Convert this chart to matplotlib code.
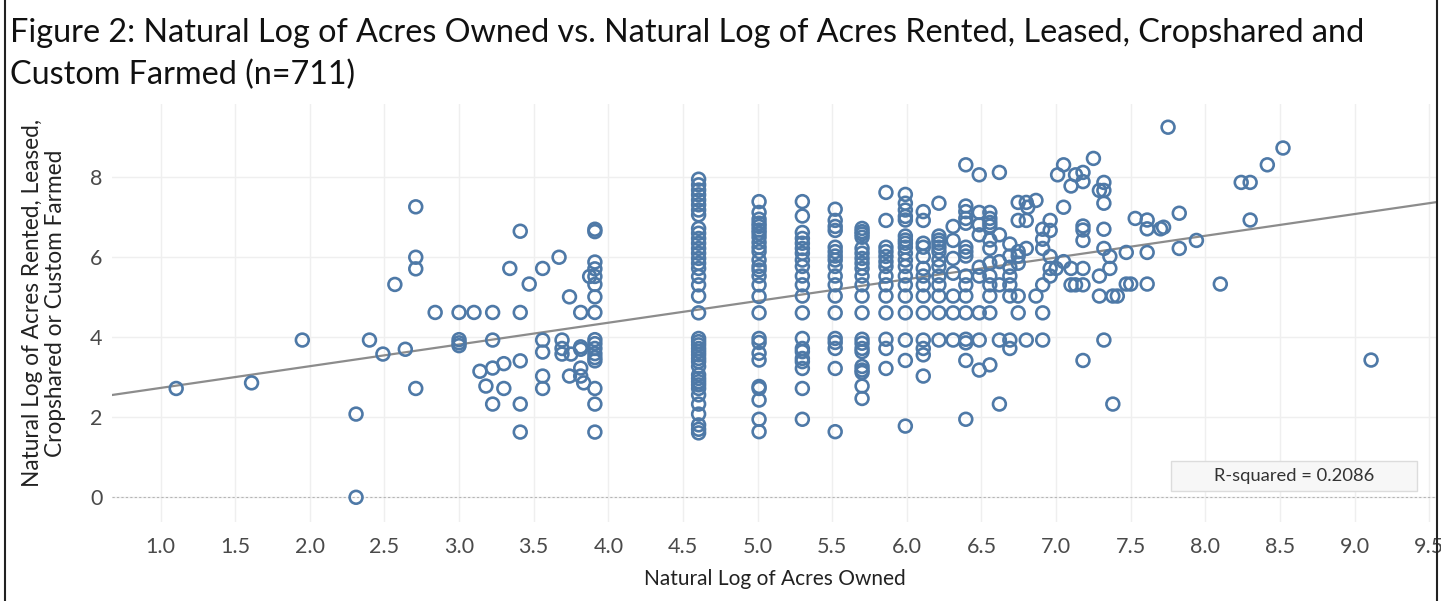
import numpy as np
import matplotlib
matplotlib.use("Agg")
import matplotlib.pyplot as plt
from matplotlib.patches import Rectangle
from matplotlib.lines import Line2D

# ---------------- data ----------------
# scattered points, left part
left_x = [1.105, 1.61, 1.95, 2.31, 2.31, 2.40, 2.49, 2.57, 2.64,
          2.71, 2.71, 2.71, 2.71, 2.84, 3.00, 3.00, 3.00, 3.00,
          3.10, 3.225, 3.41, 3.41, 3.67, 3.34, 3.56, 3.47,
          3.875, 3.74, 3.815, 3.225, 3.56, 3.56, 3.69, 3.69, 3.69, 3.75,
          3.815, 3.815, 3.14, 3.225, 3.30, 3.41, 3.56, 3.56, 3.74, 3.815,
          3.815, 3.835, 3.18, 3.30, 3.225, 3.41, 3.41]
left_y = [2.72, 2.86, 3.93, 2.08, 0.00, 3.93, 3.58, 5.32, 3.70,
          7.26, 6.00, 5.71, 2.72, 4.62, 4.62, 3.94, 3.86, 3.79,
          4.62, 4.62, 4.62, 6.65, 6.00, 5.72, 5.72, 5.33,
          5.52, 5.01, 4.62, 3.93, 3.93, 3.63, 3.93, 3.72, 3.58, 3.58,
          3.76, 3.70, 3.15, 3.23, 3.34, 3.41, 3.03, 2.72, 3.03, 3.23,
          3.03, 2.86, 2.78, 2.72, 2.33, 2.33, 1.63]

# columns of points sharing the same owned acreage (x = ln acres owned)
col_x = [3.91, 4.605, 5.01, 5.30, 5.52, 5.70, 5.86, 5.99, 6.11, 6.215, 6.31, 6.395]
col_3_91 = [6.70, 6.64, 5.88, 5.71, 5.52, 5.32, 5.01, 4.62, 3.94, 3.84, 3.72,
            3.59, 3.49, 3.41, 2.72, 2.33, 1.63]
col_4_61 = [7.95, 7.81, 7.68, 7.56, 7.43, 7.31, 7.18, 7.06, 6.72, 6.60, 6.47,
            6.35, 6.22, 6.10, 5.97, 5.85, 5.72, 5.52, 5.31, 5.03, 4.61, 3.97,
            3.89, 3.81, 3.72, 3.64, 3.56, 3.47, 3.39, 3.27, 3.06, 2.97, 2.89,
            2.81, 2.72, 2.56, 2.33, 2.08, 1.81, 1.70, 1.61]
col_5_01 = [7.39, 7.12, 6.95, 6.85, 6.77, 6.68, 6.60, 6.50, 6.37, 6.25, 6.14,
            5.93, 5.77, 5.68, 5.53, 5.31, 5.02, 4.61, 3.97, 3.87, 3.60, 3.43,
            2.77, 2.72, 2.43, 1.95, 1.64]
col_5_30 = [7.39, 7.03, 6.62, 6.47, 6.35, 6.22, 6.10, 5.93, 5.77, 5.53, 5.31,
            5.03, 4.61, 3.97, 3.72, 3.64, 3.47, 3.39, 3.22, 2.72, 1.95]
col_5_52 = [7.20, 6.92, 6.77, 6.67, 6.25, 6.14, 6.03, 5.93, 5.77, 5.53, 5.31,
            5.03, 4.61, 3.97, 3.87, 3.72, 3.22, 1.64]
col_5_70 = [6.72, 6.64, 6.58, 6.50, 6.22, 6.10, 5.97, 5.85, 5.72, 5.53, 5.31,
            5.03, 4.61, 3.95, 3.85, 3.72, 3.64, 3.27, 3.18, 3.12, 2.78, 2.47]
col_5_86 = [7.62, 6.92, 6.25, 6.14, 6.02, 5.89, 5.77, 5.53, 5.31, 5.03, 4.61,
            3.95, 3.72, 3.22]
col_5_99 = [7.57, 7.35, 7.18, 7.02, 6.93, 6.53, 6.43, 6.35, 6.25, 6.10, 5.93,
            5.77, 5.53, 5.31, 5.03, 4.61, 3.93, 3.42, 1.78]
col_6_11 = [7.14, 6.92, 6.35, 6.25, 6.02, 5.72, 5.53, 5.31, 5.03, 4.61, 3.93,
            3.72, 3.56, 3.03]
col_6_21 = [7.35, 6.53, 6.43, 6.35, 6.25, 6.14, 5.93, 5.77, 5.53, 5.31, 5.03,
            4.61, 3.93]
col_6_31 = [6.77, 6.42, 5.97, 5.60, 5.03, 4.61, 3.93]
col_6_40 = [8.31, 7.28, 7.14, 6.97, 6.85, 6.25, 6.14, 6.03, 5.53, 5.31, 5.03,
            4.61, 3.95, 3.86, 3.42, 1.95]
col_values = [col_3_91, col_4_61, col_5_01, col_5_30, col_5_52, col_5_70,
              col_5_86, col_5_99, col_6_11, col_6_21, col_6_31, col_6_40]

# scattered points, right part
right_x = [6.485] * 9 + [6.556] * 12 + [6.62] * 6 + [6.69] * 8 + [6.746] * 7 + \
          [6.80] * 4 + [6.81, 6.865, 6.865] + [6.91] * 6 + [6.96] * 5 + \
          [7.00, 7.01] + [7.05] * 3 + [7.10] * 3 + [7.13] * 2 + [7.18] * 8 + \
          [7.25] + [7.29] * 3 + [7.32] * 6 + [7.36] * 2 + [7.38] * 2 + [7.41] + \
          [7.47] * 2 + [7.50, 7.53] + [7.61] * 4 + [7.70, 7.72, 7.75] + \
          [7.825] * 2 + [7.94, 8.10, 8.24, 8.30, 8.30, 8.415, 8.52, 9.11]
right_y = [8.06, 7.12, 6.81, 6.56, 5.75, 5.53, 4.61, 3.93, 3.18,
           7.12, 6.97, 6.87, 6.78, 6.43, 6.22, 5.85, 5.53, 5.31, 5.03, 4.61, 3.31,
           8.12, 6.56, 5.89, 5.31, 3.93, 2.33,
           6.33, 6.03, 5.75, 5.53, 5.31, 5.03, 3.93, 3.72,
           7.37, 6.92, 6.14, 6.03, 5.85, 5.03, 4.61,
           7.37, 6.92, 6.22, 3.93,
           7.25, 7.42, 5.03,
           6.70, 6.45, 6.22, 5.31, 4.61, 3.93,
           6.92, 6.67, 6.02, 5.72, 5.53,
           5.72, 8.06,
           8.31, 7.25, 5.89,
           7.78, 5.72, 5.31,
           8.06, 5.31,
           8.12, 7.89, 6.78, 6.68, 6.42, 5.72, 5.31, 3.42,
           8.47,
           7.67, 5.53, 5.03,
           7.87, 7.67, 7.35, 6.70, 6.22, 3.93,
           6.02, 5.72,
           5.03, 2.33,
           5.03,
           6.12, 5.33,
           5.33, 6.97,
           6.93, 6.71, 6.12, 5.33,
           6.71, 6.75, 9.25,
           7.10, 6.22,
           6.42, 5.33, 7.87, 7.87, 6.93, 8.31, 8.73, 3.43]

# trend line and its statistic
trend_slope = 0.5433
trend_intercept = 2.190
r_squared = 0.2086

x_ticks = [1.0, 1.5, 2.0, 2.5, 3.0, 3.5, 4.0, 4.5, 5.0, 5.5, 6.0, 6.5, 7.0,
           7.5, 8.0, 8.5, 9.0, 9.5]
y_ticks = [0, 2, 4, 6, 8]

# ---------------- assemble ----------------
xs = list(left_x)
ys = list(left_y)
for cx, vals in zip(col_x, col_values):
    xs += [cx] * len(vals)
    ys += vals
xs += right_x
ys += right_y

# ---------------- figure ----------------
W, H, DPI = 1441, 601, 100
fig = plt.figure(figsize=(W / DPI, H / DPI), dpi=DPI)
plt.rcParams['font.family'] = ['Lato', 'DejaVu Sans']

ax = fig.add_axes([112 / W, 1 - 521.7 / H, (1436 - 112) / W, (521.7 - 104) / H])
ax.set_xlim(0.675, 9.545)
ax.set_ylim(-0.61, 9.83)

for s in ax.spines.values():
    s.set_visible(False)
ax.set_xticks(x_ticks)
ax.set_xticklabels([f"{t:.1f}" for t in x_ticks])
ax.set_yticks(y_ticks)
ax.tick_params(length=0, labelsize=15.5, colors='#4a4a4a', pad=11, axis='x')
ax.tick_params(length=0, labelsize=15.5, colors='#4a4a4a', pad=7, axis='y')
ax.grid(True, color='#efefef', linewidth=1.0)
ax.set_axisbelow(True)
ax.axhline(0, color='#b5b5b5', linewidth=0.8, linestyle=(0, (2, 2)), zorder=1)

ax.scatter(xs, ys, s=85, facecolors='none', edgecolors='#4e79a7',
           linewidths=1.9, zorder=3)

xl = np.array(ax.get_xlim())
ax.plot(xl, trend_intercept + trend_slope * xl, color='#8c8c8c', linewidth=1.6, zorder=2)

# R-squared box
fig.patches.append(Rectangle((1170.7 / W, 1 - 490.7 / H), (1417 - 1170.7) / W, 30 / H,
                             transform=fig.transFigure, facecolor='#f7f7f7',
                             edgecolor='#dcdcdc', linewidth=1.0, zorder=5))
fig.text(1294 / W, 1 - 476 / H, f"R-squared = {r_squared:.4f}", ha='center', va='center',
         fontsize=13.2, color='#333333', zorder=6)

fig.text(775 / W, 1 - 579 / H, "Natural Log of Acres Owned", fontsize=15,
         color='#222222', ha='center', va='center')
fig.text(44 / W, 1 - 303 / H,
         "Natural Log of Acres Rented, Leased,\nCropshared or Custom Farmed",
         fontsize=16.3, color='#222222', ha='center', va='center', rotation=90,
         linespacing=1.15, multialignment='center')

fig.text(10 / W, 1 - 33 / H,
         "Figure 2: Natural Log of Acres Owned vs. Natural Log of Acres Rented, Leased, Cropshared and",
         fontsize=23.3, color='#111111', ha='left', va='center')
fig.text(10 / W, 1 - 75 / H, "Custom Farmed (n=711)",
         fontsize=23.3, color='#111111', ha='left', va='center')

# outer border
fig.add_artist(Line2D([5 / W, 5 / W], [0, 1], transform=fig.transFigure, color='#222222', linewidth=1.5))
fig.add_artist(Line2D([1437 / W, 1437 / W], [0, 1], transform=fig.transFigure, color='#222222', linewidth=1.5))

fig.savefig("out.png", dpi=DPI)
